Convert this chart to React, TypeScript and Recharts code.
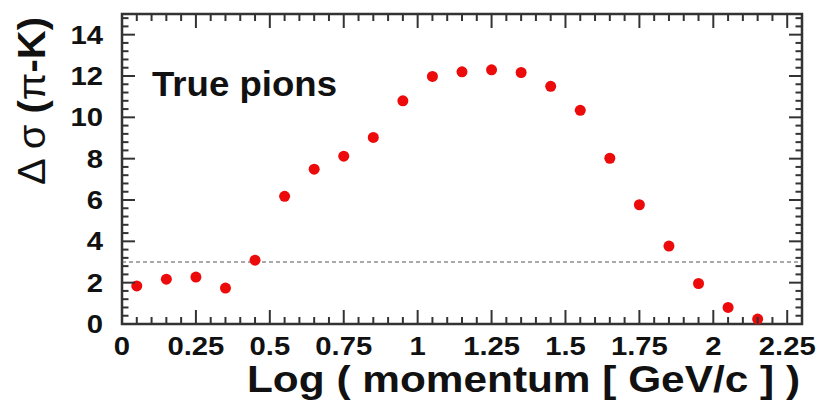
import { ReferenceArea, ReferenceLine, Scatter, ScatterChart, XAxis, YAxis } from "recharts";

// log10 of momentum bin centres
const logMomentum = [
  0.05, 0.15, 0.25, 0.35, 0.45, 0.55, 0.65, 0.75, 0.85, 0.95, 1.05,
  1.15, 1.25, 1.35, 1.45, 1.55, 1.65, 1.75, 1.85, 1.95, 2.05, 2.15
];
// pi-K separation in sigma, true pions
const deltaSigma = [
  1.84, 2.17, 2.27, 1.74, 3.09, 6.18, 7.49, 8.12, 9.03, 10.8, 11.98,
  12.2, 12.3, 12.17, 11.5, 10.34, 8.02, 5.77, 3.77, 1.96, 0.8, 0.24
];
const xMajorTicks = [0, 0.25, 0.5, 0.75, 1, 1.25, 1.5, 1.75, 2, 2.25];
const yMajorTicks = [0, 2, 4, 6, 8, 10, 12, 14];
const threshold = 3;

const X_MAX = 2.3;
const Y_MAX = 15;
const xTicks = Array.from({ length: 47 }, (_, i) => +(i * 0.05).toFixed(2));
const yTicks = Array.from({ length: 38 }, (_, i) => +(i * 0.4).toFixed(1));

const points = logMomentum.map((x, i) => ({ x, y: deltaSigma[i] }));

const W = 821;
const H = 408;
const PLOT = { left: 122, right: 802, top: 14, bottom: 324 };
const FONT = "'Liberation Sans', Arial, Helvetica, sans-serif";
const INK = "#111";
const FRAME = "#333";

const isMajor = (v: number, majors: number[]) => majors.some((m) => Math.abs(m - v) < 1e-6);

// ROOT style: ticks point inwards on all four sides of the frame
function XTick(props: any) {
  const { x, payload } = props;
  const v = payload.value as number;
  const major = isMajor(v, xMajorTicks);
  const len = major ? 14 : 7;
  return (
    <g>
      <line x1={x} x2={x} y1={PLOT.bottom} y2={PLOT.bottom - len} stroke={FRAME} strokeWidth={2} />
      <line x1={x} x2={x} y1={PLOT.top} y2={PLOT.top + len} stroke={FRAME} strokeWidth={2} />
      {major && (
        <text
          x={0}
          y={0}
          transform={`translate(${x},355) scale(1.17,1)`}
          textAnchor="middle"
          fontFamily={FONT}
          fontWeight="bold"
          fontSize={25}
          fill={INK}
        >
          {String(+v.toFixed(2))}
        </text>
      )}
    </g>
  );
}

function YTick(props: any) {
  const { y, payload } = props;
  const v = payload.value as number;
  const major = isMajor(v, yMajorTicks);
  const len = major ? 13 : 6.5;
  return (
    <g>
      <line x1={PLOT.left} x2={PLOT.left + len} y1={y} y2={y} stroke={FRAME} strokeWidth={2} />
      <line x1={PLOT.right} x2={PLOT.right - len} y1={y} y2={y} stroke={FRAME} strokeWidth={2} />
      {major && (
        <text
          x={0}
          y={0}
          transform={`translate(103,${y + 9}) scale(1.17,1)`}
          textAnchor="end"
          fontFamily={FONT}
          fontWeight="bold"
          fontSize={25}
          fill={INK}
        >
          {Math.round(v)}
        </text>
      )}
    </g>
  );
}

function Dot(props: any) {
  return <circle cx={props.cx} cy={props.cy} r={5.5} fill="#ec0a0a" />;
}

export default function App() {
  return (
    <div style={{ width: W, height: H, background: "#fff" }}>
      <style>{"body{margin:0;background:#fff}"}</style>
      <ScatterChart width={W} height={H} margin={{ top: PLOT.top, right: W - PLOT.right, bottom: 0, left: 0 }}>
        <XAxis
          type="number"
          dataKey="x"
          domain={[0, X_MAX]}
          ticks={xTicks}
          interval={0}
          axisLine={false}
          tickLine={false}
          tick={XTick}
          height={H - PLOT.bottom}
        />
        <YAxis
          type="number"
          dataKey="y"
          domain={[0, Y_MAX]}
          ticks={yTicks}
          interval={0}
          axisLine={false}
          tickLine={false}
          tick={YTick}
          width={PLOT.left}
        />
        <ReferenceLine y={threshold} stroke="#555" strokeWidth={1} strokeDasharray="4 3" />
        <ReferenceArea x1={0} x2={X_MAX} y1={0} y2={Y_MAX} fill="none" stroke={FRAME} strokeWidth={2.5} />
        <Scatter data={points} shape={Dot} isAnimationActive={false} />
        <text
          x={152}
          y={96}
          fontFamily={FONT}
          fontWeight="bold"
          fontSize={35}
          textLength={185}
          lengthAdjust="spacingAndGlyphs"
          fill={INK}
        >
          True pions
        </text>
        <text
          x={800}
          y={392}
          textAnchor="end"
          fontFamily={FONT}
          fontWeight="bold"
          fontSize={36}
          textLength={553}
          lengthAdjust="spacingAndGlyphs"
          fill={INK}
        >
          Log ( momentum [ GeV/c ] )
        </text>
        <text
          x={0}
          y={0}
          transform="translate(45,17) rotate(-90)"
          textAnchor="end"
          fontFamily={FONT}
          fontWeight="bold"
          fontSize={38}
          textLength={168}
          lengthAdjust="spacingAndGlyphs"
          fill={INK}
        >
          <tspan fontWeight="normal">Δ σ </tspan>
          <tspan>(</tspan>
          <tspan fontWeight="normal">π</tspan>
          <tspan>-K)</tspan>
        </text>
      </ScatterChart>
    </div>
  );
}
